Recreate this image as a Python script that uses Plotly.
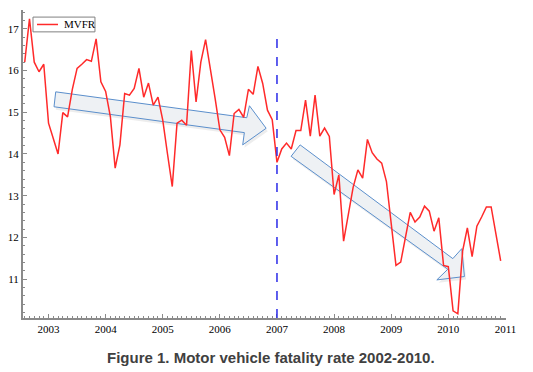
import plotly.graph_objects as go

# Monthly motor vehicle fatality rate, Aug 2002 .. Dec 2010
start_year = 2002
start_month = 8
mvfr = [
    16.20, 17.24, 16.20, 15.97, 16.15,                                   # 2002 Aug-Dec
    14.74, 14.37, 14.00, 14.99, 14.89, 15.55, 16.05, 16.15, 16.26, 16.22, 16.76, 15.73,  # 2003
    15.50, 14.89, 13.66, 14.22, 15.45, 15.41, 15.57, 16.05, 15.36, 15.70, 15.17, 15.36,  # 2004
    14.81, 14.00, 13.22, 14.74, 14.81, 14.69, 16.48, 15.25, 16.20, 16.74, 16.08, 15.33,  # 2005
    14.58, 14.40, 13.96, 14.97, 15.07, 14.88, 15.55, 15.43, 16.10, 15.69, 15.05, 14.82,  # 2006
    13.80, 14.12, 14.26, 14.12, 14.56, 14.56, 15.29, 14.43, 15.41, 14.43, 14.62, 14.42,  # 2007
    13.03, 13.50, 11.91, 12.51, 13.20, 13.62, 13.42, 14.35, 14.03, 13.88, 13.78, 13.34,  # 2008
    12.31, 11.33, 11.41, 12.03, 12.60, 12.37, 12.49, 12.75, 12.63, 12.15, 12.47, 11.33,  # 2009
    11.30, 10.24, 10.17, 11.67, 12.23, 11.54, 12.27, 12.49, 12.73, 12.73, 12.11, 11.44,  # 2010
]
times = [start_year + (start_month - 1 + i) / 12 for i in range(len(mvfr))]

x_tick_vals = [2003, 2004, 2005, 2006, 2007, 2008, 2009, 2010, 2011]
x_tick_text = [str(v) for v in x_tick_vals]
y_tick_vals = [11, 12, 13, 14, 15, 16, 17]
break_year = 2007
series_name = "MVFR"
caption = "Figure 1. Motor vehicle fatality rate 2002-2010."

# Callout arrows (annotation outlines in data coordinates: year, rate)
arrow1 = [(2003.126, 15.489), (2006.471, 14.869), (2006.518, 15.155), (2006.810, 14.616),
          (2006.400, 14.218), (2006.429, 14.512), (2003.096, 15.131)]
arrow2 = [(2007.405, 14.218), (2010.079, 11.493), (2010.236, 11.732), (2010.282, 11.064),
          (2009.799, 10.983), (2009.991, 11.238), (2007.247, 13.944)]

SERIF = "Liberation Serif, Times New Roman, serif"
LINE_COLOR = "#ff2a2a"


def poly_path(pts, dx=0.0, dy=0.0):
    return "M " + " L ".join(f"{x+dx},{y+dy}" for x, y in pts) + " Z"


fig = go.Figure()
fig.add_trace(go.Scatter(
    x=times, y=mvfr, mode="lines", name=series_name,
    line=dict(color=LINE_COLOR, width=1.5),
    showlegend=False,
))

shapes = []
for pts in (arrow1, arrow2):
    shapes.append(dict(type="path", path=poly_path(pts, 0.03, -0.07), xref="x", yref="y",
                       fillcolor="rgba(0,0,0,0.07)", line=dict(width=0), layer="below"))
    shapes.append(dict(type="path", path=poly_path(pts), xref="x", yref="y",
                       fillcolor="#eef1f4", line=dict(color="#5b8fcc", width=1), layer="below"))
shapes.append(dict(type="line", x0=break_year, x1=break_year, y0=10.07, y1=16.92,
                   xref="x", yref="y", line=dict(color="#2a2ae8", width=1.5, dash="dash")))
# legend box (drawn as shapes + text to match the compact original)
shapes.append(dict(type="rect", xref="paper", yref="paper", x0=0.0207, x1=0.149, y0=0.929, y1=0.977,
                   line=dict(color="#808080", width=1), fillcolor="white", layer="above"))
shapes.append(dict(type="line", xref="paper", yref="paper", x0=0.029, x1=0.0725, y0=0.953, y1=0.953,
                   line=dict(color=LINE_COLOR, width=1.5), layer="above"))

fig.update_layout(
    template="none",
    width=525, height=364,
    margin=dict(l=15, r=27, t=2, b=54, autoexpand=False),
    paper_bgcolor="white", plot_bgcolor="white",
    font=dict(family=SERIF, size=11, color="black"),
    shapes=shapes,
    showlegend=False,
    annotations=[
        dict(text=series_name, xref="paper", yref="paper", x=0.0807, y=0.953,
             xanchor="left", yanchor="middle", showarrow=False,
             font=dict(family=SERIF, size=11, color="black")),
        dict(text=f"<b>{caption}</b>", xref="paper", yref="paper",
             x=0.513, y=-0.127, xanchor="center", yanchor="middle",
             showarrow=False,
             font=dict(family="Liberation Sans, Arial, sans-serif", size=15, color="#404040")),
    ],
)
fig.update_xaxes(
    range=[2002.553, 2011.01], tickvals=x_tick_vals, ticktext=x_tick_text,
    automargin=False,
    showgrid=False, zeroline=False, showline=True, linecolor="#8a8a8a", linewidth=2,
    ticks="inside", ticklen=4, tickcolor="#8a8a8a", tickwidth=1,
    minor=dict(dtick=1/12, tick0=2003, ticks="inside", ticklen=2, tickcolor="#8a8a8a", showgrid=False),
    tickfont=dict(family=SERIF, size=11, color="black"),
)
fig.update_yaxes(
    range=[10.07, 17.45], tickvals=y_tick_vals,
    automargin=False,
    showgrid=False, zeroline=False, showline=True, linecolor="#8a8a8a", linewidth=2,
    ticks="inside", ticklen=4, tickcolor="#8a8a8a", tickwidth=1,
    minor=dict(dtick=0.2, tick0=10, ticks="inside", ticklen=2, tickcolor="#8a8a8a", showgrid=False),
    tickfont=dict(family=SERIF, size=11, color="black"),
)

fig.write_html("out.html")
